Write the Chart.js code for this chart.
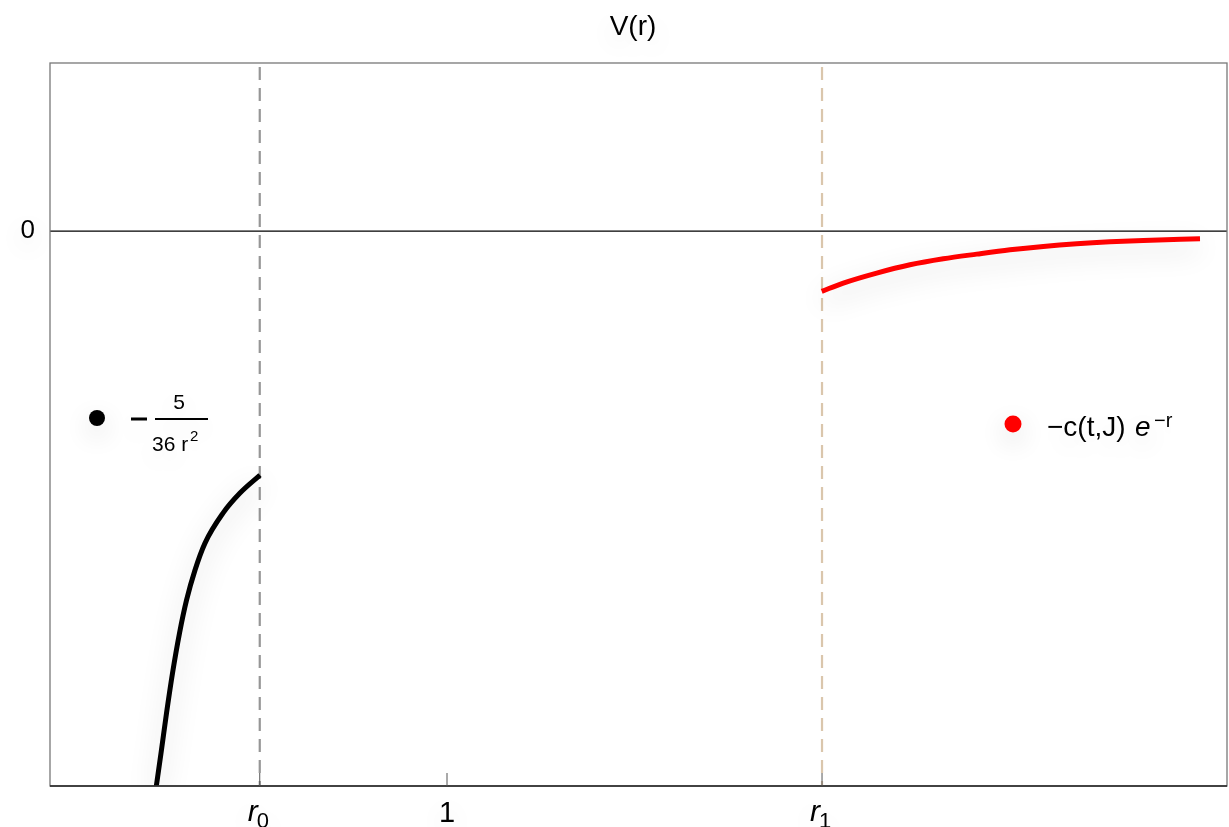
<!DOCTYPE html>
<html>
<head>
<meta charset="utf-8">
<script src="https://cdn.jsdelivr.net/npm/chart.js@4"></script>
<style>
  html, body { margin: 0; padding: 0; background: #fff; }
  #wrap { width: 1229px; height: 827px; }
</style>
</head>
<body>
<div id="wrap"><canvas id="myChart" width="1229" height="827"></canvas></div>
<script>
// values (r along x, V(r) along y)
const r0 = 0.622;
const r1 = 1.757;
const xTickValues = [r0, 1, r1];
const xTickLabels = ['r0', '1', 'r1'];
const yTickValues = [0];
const yTickLabels = ['0'];

const innerR = [0.4126, 0.4227, 0.4338, 0.4459, 0.4600, 0.4742, 0.4913, 0.5115, 0.5478, 0.5821, 0.6225];
const innerV = [-0.8252, -0.7733, -0.7141, -0.6548, -0.5956, -0.5467, -0.5022, -0.4622, -0.4178, -0.3881, -0.3615];

const outerR = [1.7564, 1.8000, 1.8674, 1.9346, 2.0018, 2.0692, 2.1365, 2.2037, 2.2711, 2.3383, 2.4056, 2.5200];
const outerV = [-0.0893, -0.0770, -0.0622, -0.0499, -0.0410, -0.0341, -0.0277, -0.0227, -0.0188, -0.0159, -0.0138, -0.0114];

const xMin = 0.1986, xMax = 2.5745;
const yMin = -0.822, yMax = 0.249;

const FONT = '"Liberation Sans", Arial, sans-serif';
const toPoints = (xs, ys) => xs.map((x, i) => ({ x: x, y: ys[i] }));

const glowPlugin = {
  id: 'glow',
  beforeDatasetDraw(chart) {
    const ctx = chart.ctx;
    ctx.save();
    ctx.shadowColor = 'rgba(0,0,0,0.2)';
    ctx.shadowBlur = 28;
    ctx.shadowOffsetY = 9;
  },
  afterDatasetDraw(chart) {
    chart.ctx.restore();
  }
};

function glowOn(ctx) {
  ctx.shadowColor = 'rgba(0,0,0,0.16)';
  ctx.shadowBlur = 26;
  ctx.shadowOffsetY = 9;
}
function glowOff(ctx) {
  ctx.shadowColor = 'rgba(0,0,0,0)';
  ctx.shadowBlur = 0;
  ctx.shadowOffsetY = 0;
}

const framePlugin = {
  id: 'frame',
  beforeDatasetsDraw(chart) {
    const ctx = chart.ctx;
    const a = chart.chartArea;
    const xs = chart.scales.x, ys = chart.scales.y;
    ctx.save();
    // dashed markers at r0 and r1
    ctx.setLineDash([13, 8]);
    ctx.lineWidth = 2.2;
    ctx.strokeStyle = 'rgb(150,150,150)';
    let px = xs.getPixelForValue(r0);
    ctx.beginPath(); ctx.moveTo(px, a.top + 4); ctx.lineTo(px, a.bottom); ctx.stroke();
    ctx.strokeStyle = 'rgb(218,198,172)';
    px = xs.getPixelForValue(r1);
    ctx.beginPath(); ctx.moveTo(px, a.top + 4); ctx.lineTo(px, a.bottom); ctx.stroke();
    ctx.setLineDash([]);
    // zero line
    const y0 = ys.getPixelForValue(0);
    ctx.strokeStyle = '#000';
    ctx.lineWidth = 1.4;
    ctx.beginPath(); ctx.moveTo(a.left, y0); ctx.lineTo(a.right, y0); ctx.stroke();
    ctx.restore();
  },
  afterDraw(chart) {
    const ctx = chart.ctx;
    const a = chart.chartArea;
    const xs = chart.scales.x, ys = chart.scales.y;
    ctx.save();
    // frame
    ctx.strokeStyle = 'rgb(120,120,120)';
    ctx.lineWidth = 1.3;
    ctx.strokeRect(a.left, a.top, a.right - a.left, a.bottom - a.top);
    ctx.strokeStyle = '#222';
    ctx.beginPath(); ctx.moveTo(a.left, a.bottom); ctx.lineTo(a.right, a.bottom); ctx.stroke();

    // x ticks
    ctx.fillStyle = '#000';
    ctx.textBaseline = 'alphabetic';
    xTickValues.forEach((v, i) => {
      const px = xs.getPixelForValue(v);
      ctx.strokeStyle = '#555';
      ctx.lineWidth = 1;
      ctx.beginPath(); ctx.moveTo(px, a.bottom); ctx.lineTo(px, a.bottom - 13); ctx.stroke();
      const lab = xTickLabels[i];
      glowOn(ctx);
      if (lab.length === 2 && lab[0] === 'r') {
        ctx.font = 'italic 30px ' + FONT;
        ctx.textAlign = 'right';
        ctx.fillText('r', px - 2, 821);
        ctx.font = '22px ' + FONT;
        ctx.textAlign = 'left';
        ctx.fillText(lab[1], px - 3, 828);
      } else {
        ctx.font = '29px ' + FONT;
        ctx.textAlign = 'center';
        ctx.fillText(lab, px, 822);
      }
      glowOff(ctx);
    });
    // y ticks
    ctx.textAlign = 'right';
    ctx.textBaseline = 'middle';
    ctx.font = '26px ' + FONT;
    glowOn(ctx);
    yTickValues.forEach((v, i) => {
      ctx.fillText(yTickLabels[i], 35, ys.getPixelForValue(v));
    });

    // title
    ctx.textAlign = 'center';
    ctx.textBaseline = 'alphabetic';
    ctx.font = '28px ' + FONT;
    ctx.fillText('V(r)', 633, 35);

    // legend: black
    ctx.fillStyle = '#000';
    ctx.beginPath(); ctx.arc(97, 418, 8, 0, Math.PI * 2); ctx.fill();
    ctx.fillRect(131, 417.5, 16, 3);
    ctx.fillRect(155, 418, 53, 2);
    ctx.font = '21px ' + FONT;
    ctx.textAlign = 'center';
    ctx.fillText('5', 179, 409);
    ctx.textAlign = 'left';
    ctx.fillText('36 r', 152, 451);
    ctx.font = '15px ' + FONT;
    ctx.fillText('2', 190, 441);

    // legend: red
    ctx.fillStyle = '#ff0000';
    ctx.beginPath(); ctx.arc(1013, 424, 8.5, 0, Math.PI * 2); ctx.fill();
    ctx.fillStyle = '#000';
    ctx.font = '28px ' + FONT;
    ctx.fillText('\u2212c(t,J)', 1047, 436);
    ctx.font = 'italic 28px ' + FONT;
    ctx.fillText('e', 1135, 436);
    ctx.font = '20px ' + FONT;
    ctx.fillText('\u2212r', 1154, 427);
    ctx.restore();
  }
};

const ctx = document.getElementById('myChart').getContext('2d');
new Chart(ctx, {
  type: 'line',
  data: {
    datasets: [
      {
        label: '-5/(36 r^2)',
        data: toPoints(innerR, innerV),
        borderColor: '#000',
        borderWidth: 5,
        pointRadius: 0,
        cubicInterpolationMode: 'monotone',
        fill: false
      },
      {
        label: '-c(t,J) e^-r',
        data: toPoints(outerR, outerV),
        borderColor: '#ff0000',
        borderWidth: 5,
        pointRadius: 0,
        cubicInterpolationMode: 'monotone',
        fill: false
      }
    ]
  },
  options: {
    responsive: false,
    animation: false,
    layout: { padding: { left: 50, right: 2, top: 63, bottom: 41 } },
    plugins: {
      legend: { display: false },
      tooltip: { enabled: false }
    },
    scales: {
      x: { type: 'linear', min: xMin, max: xMax, display: false },
      y: { type: 'linear', min: yMin, max: yMax, display: false }
    }
  },
  plugins: [framePlugin, glowPlugin]
});
</script>
</body>
</html>
